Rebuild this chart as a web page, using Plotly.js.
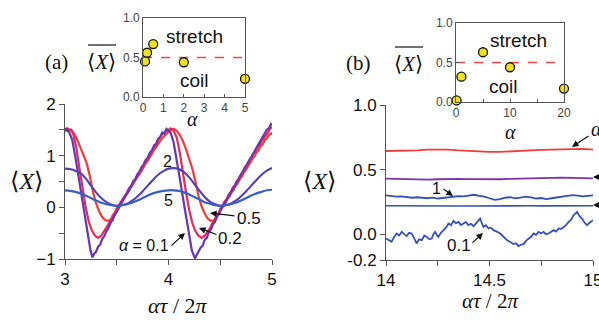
<!DOCTYPE html>
<html><head><meta charset="utf-8">
<script src="https://cdn.plot.ly/plotly-3.0.1.min.js"></script>
<style>html,body{margin:0;padding:0;background:#fff}#c{width:599px;height:320px}</style>
</head><body><div id="c"></div>
<script>
// ---- Panel (a) main: <X> vs alpha*tau/2pi, pairs [x, y]
const a_alpha01 = [[3.00,1.53],[3.01,1.49],[3.02,1.52],[3.03,1.47],[3.04,1.46],[3.07,1.30],[3.10,0.98],[3.13,0.62],[3.16,0.25],[3.19,-0.12],[3.22,-0.50],[3.245,-0.82],[3.265,-0.97],[3.28,-0.90],[3.30,-0.86],[3.32,-0.76],[3.34,-0.72],[3.36,-0.61],[3.38,-0.56],[3.40,-0.46],[3.42,-0.40],[3.44,-0.30],[3.46,-0.25],[3.48,-0.15],[3.50,-0.09],[3.52,-0.01],[3.54,0.07],[3.56,0.13],[3.58,0.22],[3.60,0.27],[3.62,0.36],[3.64,0.41],[3.66,0.50],[3.68,0.54],[3.70,0.64],[3.72,0.69],[3.74,0.78],[3.76,0.83],[3.78,0.92],[3.80,0.96],[3.82,1.06],[3.84,1.10],[3.86,1.20],[3.88,1.23],[3.90,1.33],[3.92,1.36],[3.94,1.45],[3.96,1.43],[3.98,1.52],[4.00,1.48],[4.02,1.45],[4.05,1.25],[4.08,0.92],[4.11,0.55],[4.14,0.18],[4.17,-0.18],[4.20,-0.55],[4.225,-0.83],[4.255,-0.99],[4.27,-0.93],[4.29,-0.88],[4.31,-0.78],[4.33,-0.74],[4.35,-0.63],[4.37,-0.59],[4.39,-0.48],[4.41,-0.43],[4.43,-0.33],[4.45,-0.28],[4.47,-0.18],[4.49,-0.13],[4.51,-0.03],[4.53,0.03],[4.55,0.11],[4.57,0.18],[4.59,0.25],[4.61,0.32],[4.63,0.39],[4.65,0.46],[4.67,0.53],[4.69,0.60],[4.71,0.67],[4.73,0.73],[4.75,0.81],[4.77,0.87],[4.79,0.95],[4.81,1.01],[4.83,1.09],[4.85,1.15],[4.87,1.23],[4.89,1.28],[4.91,1.37],[4.93,1.42],[4.95,1.50],[4.97,1.53],[4.99,1.61],[5.00,1.58]];
const a_alpha02 = [[3.00,1.50],[3.02,1.53],[3.04,1.49],[3.06,1.50],[3.08,1.42],[3.11,1.15],[3.14,0.75],[3.17,0.35],[3.20,0.00],[3.23,-0.28],[3.26,-0.45],[3.29,-0.55],[3.32,-0.59],[3.35,-0.55],[3.38,-0.45],[3.40,-0.40],[3.42,-0.31],[3.44,-0.26],[3.46,-0.16],[3.48,-0.11],[3.50,-0.02],[3.52,0.04],[3.54,0.12],[3.56,0.16],[3.58,0.24],[3.60,0.29],[3.62,0.37],[3.64,0.42],[3.66,0.50],[3.68,0.55],[3.70,0.63],[3.72,0.69],[3.74,0.77],[3.76,0.82],[3.78,0.90],[3.80,0.95],[3.82,1.03],[3.84,1.09],[3.86,1.17],[3.88,1.22],[3.90,1.30],[3.92,1.35],[3.94,1.42],[3.96,1.44],[3.98,1.49],[4.00,1.50],[4.02,1.53],[4.05,1.48],[4.08,1.35],[4.11,1.05],[4.14,0.65],[4.17,0.28],[4.20,-0.05],[4.23,-0.30],[4.26,-0.46],[4.29,-0.55],[4.32,-0.59],[4.35,-0.55],[4.38,-0.46],[4.40,-0.41],[4.42,-0.32],[4.44,-0.27],[4.46,-0.18],[4.48,-0.13],[4.50,-0.03],[4.52,0.02],[4.54,0.11],[4.56,0.15],[4.58,0.24],[4.60,0.29],[4.62,0.38],[4.64,0.42],[4.66,0.51],[4.68,0.56],[4.70,0.64],[4.72,0.69],[4.74,0.78],[4.76,0.82],[4.78,0.91],[4.80,0.95],[4.82,1.04],[4.84,1.08],[4.86,1.16],[4.88,1.20],[4.90,1.28],[4.92,1.33],[4.94,1.40],[4.96,1.44],[4.98,1.52],[5.00,1.55]];
const a_alpha05 = [[3.00,1.50],[3.03,1.52],[3.06,1.50],[3.09,1.42],[3.12,1.30],[3.15,1.15],[3.18,1.00],[3.21,0.85],[3.24,0.60],[3.27,0.30],[3.30,0.08],[3.33,-0.08],[3.36,-0.19],[3.39,-0.25],[3.42,-0.26],[3.45,-0.22],[3.48,-0.13],[3.51,-0.03],[3.54,0.07],[3.56,0.12],[3.58,0.20],[3.60,0.25],[3.62,0.33],[3.64,0.38],[3.66,0.46],[3.68,0.51],[3.70,0.59],[3.72,0.64],[3.74,0.72],[3.76,0.77],[3.78,0.85],[3.80,0.90],[3.82,0.98],[3.84,1.03],[3.86,1.11],[3.88,1.16],[3.90,1.23],[3.92,1.28],[3.94,1.34],[3.96,1.38],[3.98,1.43],[4.00,1.46],[4.02,1.50],[4.05,1.52],[4.08,1.48],[4.11,1.40],[4.14,1.28],[4.17,1.12],[4.20,0.95],[4.23,0.75],[4.26,0.50],[4.29,0.22],[4.32,0.02],[4.35,-0.12],[4.38,-0.22],[4.41,-0.26],[4.44,-0.25],[4.47,-0.17],[4.50,-0.07],[4.53,0.03],[4.55,0.08],[4.57,0.16],[4.59,0.21],[4.61,0.29],[4.63,0.34],[4.65,0.42],[4.67,0.47],[4.69,0.55],[4.71,0.60],[4.73,0.68],[4.75,0.73],[4.77,0.81],[4.79,0.86],[4.81,0.94],[4.83,0.98],[4.85,1.06],[4.87,1.10],[4.89,1.18],[4.91,1.22],[4.93,1.30],[4.95,1.33],[4.97,1.40],[4.99,1.42],[5.00,1.45]];
const a_x_smooth = [3.00,3.05,3.10,3.15,3.20,3.25,3.30,3.35,3.40,3.45,3.50,3.55,3.60,3.65,3.70,3.75,3.80,3.85,3.90,3.95,4.00,4.05,4.10,4.15,4.20,4.25,4.30,4.35,4.40,4.45,4.50,4.55,4.60,4.65,4.70,4.75,4.80,4.85,4.90,4.95,5.00];
const a_alpha2 = [0.75,0.74,0.71,0.66,0.56,0.42,0.29,0.18,0.10,0.05,0.03,0.04,0.07,0.13,0.21,0.31,0.42,0.53,0.63,0.70,0.75,0.76,0.74,0.68,0.58,0.45,0.32,0.20,0.11,0.06,0.03,0.04,0.07,0.13,0.21,0.31,0.42,0.53,0.63,0.71,0.76];
const a_alpha5 = [0.33,0.32,0.30,0.27,0.23,0.18,0.13,0.09,0.06,0.04,0.03,0.04,0.06,0.09,0.13,0.18,0.23,0.27,0.30,0.32,0.33,0.33,0.32,0.29,0.25,0.20,0.15,0.10,0.07,0.04,0.03,0.04,0.06,0.09,0.13,0.18,0.23,0.27,0.30,0.33,0.34];

// ---- Panel (b) main
const b_x21 = [14.00,14.05,14.10,14.15,14.20,14.25,14.30,14.35,14.40,14.45,14.50,14.55,14.60,14.65,14.70,14.75,14.80,14.85,14.90,14.95,15.00];
const b_alpha5 = [0.644,0.644,0.647,0.649,0.655,0.657,0.655,0.649,0.644,0.639,0.637,0.637,0.642,0.644,0.649,0.652,0.655,0.657,0.662,0.660,0.655];
const b_alpha10 = [0.430,0.428,0.425,0.423,0.423,0.425,0.428,0.428,0.426,0.425,0.425,0.425,0.428,0.430,0.433,0.436,0.438,0.438,0.436,0.433,0.432];
const b_alpha20 = [0.220,0.219,0.219,0.218,0.219,0.220,0.219,0.218,0.218,0.219,0.219,0.218,0.219,0.220,0.220,0.219,0.219,0.218,0.219,0.220,0.220];
const b_x41 = [14.000,14.025,14.050,14.075,14.100,14.125,14.150,14.175,14.200,14.225,14.250,14.275,14.300,14.325,14.350,14.375,14.400,14.425,14.450,14.475,14.500,14.525,14.550,14.575,14.600,14.625,14.650,14.675,14.700,14.725,14.750,14.775,14.800,14.825,14.850,14.875,14.900,14.925,14.950,14.975,15.000];
const b_alpha1 = [0.300,0.296,0.290,0.292,0.285,0.282,0.286,0.280,0.278,0.283,0.276,0.280,0.286,0.290,0.294,0.292,0.300,0.305,0.296,0.290,0.278,0.265,0.272,0.282,0.286,0.278,0.283,0.290,0.284,0.276,0.280,0.272,0.278,0.284,0.290,0.295,0.302,0.298,0.292,0.296,0.300];
const b_alpha01 = [[14.000,-0.034],[14.014,-0.05],[14.027,-0.059],[14.040,-0.02],[14.052,0.005],[14.064,-0.01],[14.076,0.018],[14.088,0.0],[14.100,-0.015],[14.112,0.01],[14.124,0.005],[14.136,-0.03],[14.148,-0.072],[14.160,-0.04],[14.173,-0.046],[14.185,-0.01],[14.197,-0.021],[14.209,-0.04],[14.221,-0.034],[14.229,0.0],[14.237,0.018],[14.245,-0.005],[14.253,-0.021],[14.265,0.01],[14.277,0.031],[14.290,0.05],[14.302,0.082],[14.314,0.07],[14.326,0.103],[14.338,0.085],[14.350,0.095],[14.362,0.07],[14.374,0.082],[14.386,0.095],[14.398,0.070],[14.410,0.08],[14.423,0.062],[14.439,0.09],[14.455,0.121],[14.463,0.085],[14.471,0.057],[14.483,0.07],[14.495,0.044],[14.507,0.05],[14.519,0.031],[14.535,0.02],[14.552,0.005],[14.568,-0.02],[14.584,-0.046],[14.600,-0.06],[14.616,-0.077],[14.628,-0.07],[14.640,-0.093],[14.652,-0.08],[14.665,-0.077],[14.677,-0.05],[14.689,-0.034],[14.701,-0.02],[14.713,0.005],[14.725,-0.005],[14.737,0.018],[14.749,0.005],[14.761,0.018],[14.773,0.0],[14.785,0.005],[14.797,0.02],[14.810,0.031],[14.822,0.02],[14.834,0.044],[14.846,0.04],[14.858,0.057],[14.870,0.07],[14.882,0.095],[14.894,0.11],[14.906,0.147],[14.915,0.16],[14.923,0.173],[14.935,0.14],[14.947,0.121],[14.959,0.09],[14.971,0.070],[14.985,0.09],[15.000,0.108]];

// ---- Insets: time-averaged <X> vs alpha
const insetA_alpha = [0.1,0.2,0.5,2,5];
const insetA_xbar  = [0.45,0.56,0.67,0.44,0.23];
const insetB_alpha = [0.1,1,5,10,20];
const insetB_xbar  = [0.02,0.32,0.63,0.44,0.17];

const W=599,H=320;
const px=x=>x/W, py=y=>1-y/H;
const SANS='Liberation Sans, Arial, sans-serif';
const SERIF='Liberation Serif, DejaVu Serif, serif';

function pairs(arr,i){return arr.map(p=>p[i]);}
const traces=[
 {x:pairs(a_alpha05,0),y:pairs(a_alpha05,1),xaxis:'x',yaxis:'y',mode:'lines',line:{color:'#f23c3c',width:2.2}},
 {x:pairs(a_alpha02,0),y:pairs(a_alpha02,1),xaxis:'x',yaxis:'y',mode:'lines',line:{color:'#e62a5c',width:2.2}},
 {x:pairs(a_alpha01,0),y:pairs(a_alpha01,1),xaxis:'x',yaxis:'y',mode:'lines',line:{color:'#6a35b0',width:2.2}},
 {x:a_x_smooth,y:a_alpha2,xaxis:'x',yaxis:'y',mode:'lines',line:{color:'#5a42ae',width:2.2,shape:'spline'}},
 {x:a_x_smooth,y:a_alpha5,xaxis:'x',yaxis:'y',mode:'lines',line:{color:'#3a5fc0',width:2.2,shape:'spline'}},
 {x:b_x21,y:b_alpha5,xaxis:'x2',yaxis:'y2',mode:'lines',line:{color:'#f03c3c',width:1.8}},
 {x:b_x21,y:b_alpha10,xaxis:'x2',yaxis:'y2',mode:'lines',line:{color:'#7a35b0',width:1.8}},
 {x:b_x41,y:b_alpha1,xaxis:'x2',yaxis:'y2',mode:'lines',line:{color:'#3552b5',width:1.8}},
 {x:b_x21,y:b_alpha20,xaxis:'x2',yaxis:'y2',mode:'lines',line:{color:'#3552b5',width:1.6}},
 {x:pairs(b_alpha01,0),y:pairs(b_alpha01,1),xaxis:'x2',yaxis:'y2',mode:'lines',line:{color:'#3552b5',width:1.8}},
 {x:[0,5],y:[0.5,0.5],xaxis:'x3',yaxis:'y3',mode:'lines',line:{color:'#f04848',width:1.5,dash:'dash'}},
 {x:insetA_alpha,y:insetA_xbar,xaxis:'x3',yaxis:'y3',mode:'markers',cliponaxis:false,marker:{size:9,color:'#f2e21a',line:{color:'#111',width:1.3}}},
 {x:[0,20],y:[0.5,0.5],xaxis:'x4',yaxis:'y4',mode:'lines',line:{color:'#f04848',width:1.5,dash:'dash'}},
 {x:insetB_alpha,y:insetB_xbar,xaxis:'x4',yaxis:'y4',mode:'markers',cliponaxis:false,marker:{size:9,color:'#f2e21a',line:{color:'#111',width:1.3}}}
];

const mainAxis={showgrid:false,zeroline:false,showline:true,linecolor:'#555',linewidth:1,ticks:'outside',ticklen:5,tickcolor:'#555',ticklabeloverflow:'allow',tickfont:{family:SANS,size:17,color:'#111'}};
const insetAxis={showgrid:false,zeroline:false,showline:true,mirror:true,linecolor:'#555',linewidth:1,ticks:'inside',ticklen:3,tickcolor:'#555',ticklabeloverflow:'allow',tickfont:{family:SANS,size:12,color:'#444'}};

function ann(x,y,text,size,opts){return Object.assign({xref:'paper',yref:'paper',x:px(x),y:py(y),text:text,showarrow:false,xanchor:'center',yanchor:'middle',font:{family:SANS,size:size,color:'#111'}},opts||{});}
function arrow(hx,hy,tx,ty){return {xref:'paper',yref:'paper',x:px(hx),y:py(hy),ax:tx-hx,ay:ty-hy,text:'',showarrow:true,arrowhead:2,arrowsize:1.1,arrowwidth:1.2,arrowcolor:'#111',standoff:0,startstandoff:0};}
const serif=(s)=>({family:SERIF,size:s,color:'#111'});
const NB='\u00a0';

const annotations=[
 ann(56,62,'(a)',21,{font:serif(21)}),
 ann(358,63,'(b)',21,{font:serif(21)}),
 ann(101,62,'⟨<i>X</i>⟩',21,{font:serif(21)}),
 ann(408,64,'⟨<i>X</i>⟩',21,{font:serif(21)}),
 ann(26,181,'⟨<i>X</i>⟩',24,{font:serif(24)}),
 ann(319,181,'⟨<i>X</i>⟩',24,{font:serif(24)}),
 ann(178,305,'<i>ατ</i>'+NB+'/'+NB+'2<i>π</i>',22,{font:serif(22)}),
 ann(490,301,'<i>ατ</i> / 2<i>π</i>',21,{font:serif(21)}),
 ann(192,119,'<i>α</i>',20,{font:serif(20)}),
 ann(510,132,'<i>α</i>',20,{font:serif(20)}),
 ann(195,36,'stretch',19),
 ann(195,80,'coil',19),
 ann(518,40,'stretch',19),
 ann(503,86,'coil',19),
 ann(167,161,'2',16),
 ann(168,200,'5',16),
 ann(249,218,'0.5',17),
 ann(230,238,'0.2',17),
 ann(144,245,'<i>α</i> = 0.1',16,{font:{family:SANS,size:16,color:'#111'}}),
 ann(436,188,'1',16),
 ann(459,245,'0.1',17),
 ann(589,129,'<i>α</i>',20,{xanchor:'left',font:serif(20)}),
 arrow(210,213,236,216),
 arrow(199,228,218,235),
 arrow(185,233,170,247),
 arrow(453,196,442,188),
 arrow(483,233,471,244),
 arrow(572,147,590,135),
 arrow(593,177,610,177),
 arrow(593,205,610,205)
];

const layout={
 width:W,height:H,margin:{l:0,r:0,t:0,b:0},paper_bgcolor:'#fff',plot_bgcolor:'rgba(0,0,0,0)',showlegend:false,
 xaxis:Object.assign({},mainAxis,{domain:[px(65),px(272)],range:[3,5],anchor:'y',dtick:1,tick0:3,minor:{dtick:0.5,ticks:'outside',ticklen:5,tickcolor:'#555'}}),
 yaxis:Object.assign({},mainAxis,{domain:[py(259),py(104)],range:[-1,2],anchor:'x',dtick:1,minor:{dtick:0.5,ticks:'outside',ticklen:5,tickcolor:'#555'}}),
 xaxis2:Object.assign({},mainAxis,{domain:[px(386),px(593)],range:[14,15],anchor:'y2',tickvals:[14,14.5,15],ticktext:['14','14.5','15'],minor:{tickvals:[14.25,14.75],ticks:'outside',ticklen:5,tickcolor:'#555'}}),
 yaxis2:Object.assign({},mainAxis,{domain:[py(260),py(105)],range:[-0.2,1],anchor:'x2',tickvals:[-0.2,0,0.5,1],ticktext:['-0.2','0.0','0.5','1.0']}),
 xaxis3:Object.assign({},insetAxis,{domain:[px(143),px(245)],range:[0,5],anchor:'y3',dtick:1}),
 yaxis3:Object.assign({},insetAxis,{domain:[py(97),py(18)],range:[0,1],anchor:'x3',tickvals:[0,0.5,1],ticktext:['0.0','0.5','1.0']}),
 xaxis4:Object.assign({},insetAxis,{domain:[px(456),px(564)],range:[0,20],anchor:'y4',tickvals:[0,10,20],minor:{tickvals:[5,15],ticks:'inside',ticklen:3,tickcolor:'#555'}}),
 yaxis4:Object.assign({},insetAxis,{domain:[py(102),py(23)],range:[0,1],anchor:'x4',tickvals:[0,0.5,1],ticktext:['0.0','0.5','1.0']}),
 annotations:annotations,
 shapes:[
  {type:'line',xref:'paper',yref:'paper',x0:px(88),x1:px(116),y0:py(45),y1:py(45),line:{color:'#111',width:1.2}},
  {type:'line',xref:'paper',yref:'paper',x0:px(395),x1:px(423),y0:py(47),y1:py(47),line:{color:'#111',width:1.2}}
 ]
};
Plotly.newPlot('c',traces,layout,{staticPlot:true,displayModeBar:false});
</script></body></html>
